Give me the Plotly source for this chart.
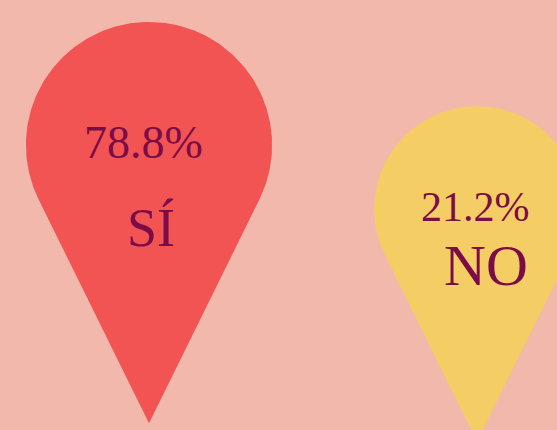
import numpy as np
import plotly.graph_objects as go

# ---- data ----
categories = ["SÍ", "NO"]
values = [78.8, 21.2]
colors = ["#F25353", "#F4CD65"]

# ---- layout constants (pixel space) ----
W, H = 557, 430
BG = "#F2B8AC"
TEXT = "#7B0C47"
FONT = "Liberation Serif"
centers_x = [149, 477]
centers_y = [145, 209]
R_BASE, R_SCALE = 95.5, 0.35     # pin head radius = base + scale * value
TIP_RATIO = 2.26                 # distance centre->tip relative to radius
pct_dy = [25, 23]
lab_dy = [115, 91]
lab_dx = [2, 9]
pct_dx = [-6, -2]

fig = go.Figure()

for i, (cat, v, col) in enumerate(zip(categories, values, colors)):
    cx, cy = centers_x[i], centers_y[i]
    r = R_BASE + R_SCALE * v
    d = TIP_RATIO * r
    th = np.arccos(r / d)
    phi = np.linspace(th, 2 * np.pi - th, 200)
    xs = list(cx + r * np.sin(phi)) + [cx]
    ys = list(cy + r * np.cos(phi)) + [cy + d]
    xs.append(xs[0]); ys.append(ys[0])
    fig.add_trace(go.Scatter(x=xs, y=ys, mode="lines", fill="toself",
                             fillcolor=col, line=dict(width=0, color=col),
                             hoverinfo="skip", showlegend=False))
    fig.add_annotation(x=cx + pct_dx[i], y=cy + pct_dy[i], text=f"{v:.1f}%",
                       showarrow=False, xanchor="center", yanchor="bottom",
                       font=dict(family=FONT, size=46 if i == 0 else 42, color=TEXT))
    fig.add_annotation(x=cx + lab_dx[i], y=cy + lab_dy[i], text=cat,
                       showarrow=False, xanchor="center", yanchor="bottom",
                       font=dict(family=FONT, size=54 if i == 0 else 58, color=TEXT))

fig.update_layout(
    width=W, height=H, autosize=False,
    margin=dict(l=0, r=0, t=0, b=0),
    paper_bgcolor=BG, plot_bgcolor=BG,
    xaxis=dict(range=[0, W], visible=False, fixedrange=True),
    yaxis=dict(range=[H, 0], visible=False, fixedrange=True),
)
fig.write_html("out.html", config={"displayModeBar": False},
               post_script="document.body.style.margin='0';document.body.style.overflow='hidden';")
